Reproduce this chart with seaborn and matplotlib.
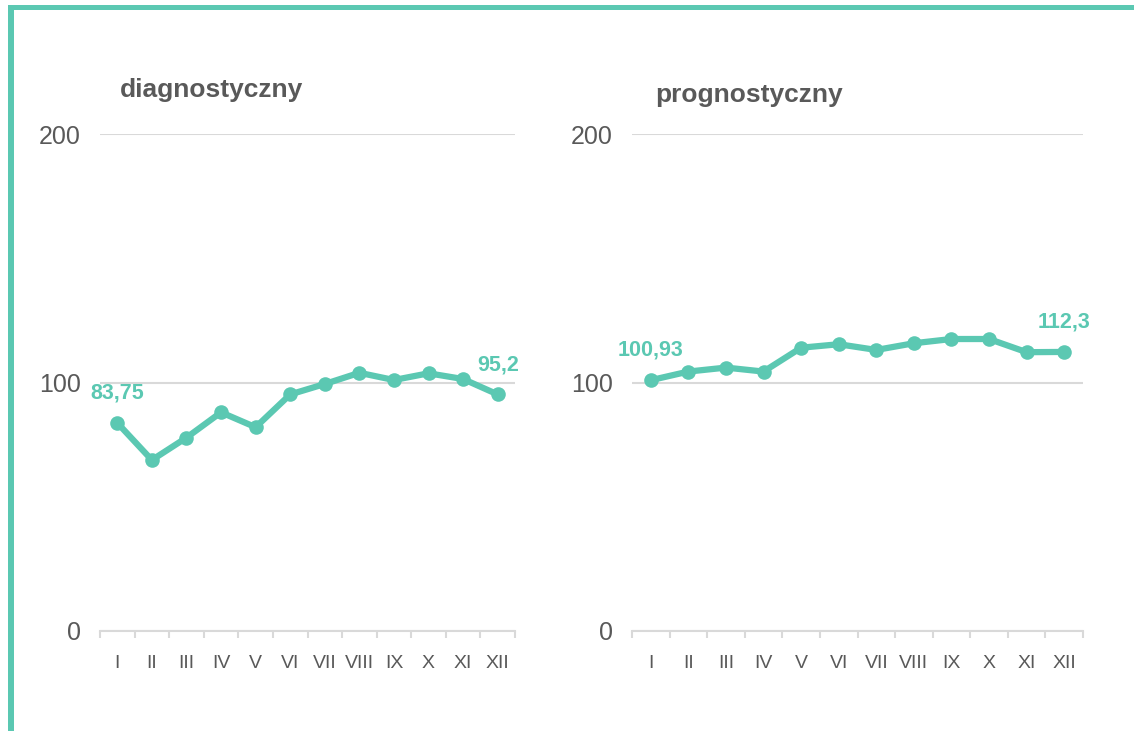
import numpy as np
import pandas as pd
import matplotlib.pyplot as plt
import seaborn as sns
from matplotlib.patches import Rectangle

# data
months = ['I', 'II', 'III', 'IV', 'V', 'VI', 'VII', 'VIII', 'IX', 'X', 'XI', 'XII']
diagnostyczny = [83.75, 68.8, 77.8, 88.0, 82.0, 95.2, 99.4, 103.9, 101.0, 103.7, 101.4, 95.2]
prognostyczny = [100.93, 104.4, 106.0, 104.4, 114.0, 115.4, 113.1, 115.8, 117.5, 117.5, 112.2, 112.3]
titles = ['diagnostyczny', 'prognostyczny']
first_labels = ['83,75', '100,93']
last_labels = ['95,2', '112,3']

teal = '#5BC8B2'
grey_txt = '#595959'
grey_line = '#D9D9D9'

sns.set_theme(style='white')
plt.rcParams['font.family'] = ['Liberation Sans', 'DejaVu Sans']

fig = plt.figure(figsize=(11.34, 7.31), dpi=100)
W, H = 1134, 731

# axes boxes in pixels: left, right, top, bottom
boxes = [(100, 515, 134, 631), (632, 1083, 134, 631)]
title_pos = [(120, 90), (655, 95)]
series = [diagnostyczny, prognostyczny]

for i in range(2):
    l, r, t, b = boxes[i]
    ax = fig.add_axes([l / W, (H - b) / H, (r - l) / W, (b - t) / H])
    df = pd.DataFrame({'miesiac': months, 'wartosc': series[i]})
    sns.lineplot(data=df, x='miesiac', y='wartosc', ax=ax, color=teal, sort=False,
                 linewidth=4.5, marker='o', markersize=10.5, markeredgewidth=0)
    ax.set_xlim(-0.5, 11.5)
    ax.set_ylim(0, 200)
    ax.set_yticks([0, 100, 200])
    ax.set_yticklabels(['0', '100', '200'])
    ax.yaxis.grid(True, color=grey_line, linewidth=1.5)
    ax.xaxis.grid(False)
    ax.set_xlabel('')
    ax.set_ylabel('')
    for s in ['top', 'left', 'right']:
        ax.spines[s].set_visible(False)
    ax.spines['bottom'].set_color(grey_line)
    ax.spines['bottom'].set_linewidth(1.5)
    ax.set_xticks(np.arange(-0.5, 12, 1), minor=True)
    ax.tick_params(axis='x', which='minor', bottom=True, length=5, width=1.5,
                   color=grey_line, direction='out')
    ax.tick_params(axis='x', which='major', bottom=True, length=0, pad=17,
                   labelsize=14, labelcolor=grey_txt)
    ax.tick_params(axis='y', length=0, pad=14, labelsize=18, labelcolor=grey_txt)
    ax.set_axisbelow(True)

    # labels for first and last point
    ax.annotate(first_labels[i], (0, series[i][0]), xytext=(0, 21.5), textcoords='offset points',
                ha='center', va='center', fontsize=15.5, fontweight='bold', color=teal)
    ax.annotate(last_labels[i], (11, series[i][-1]), xytext=(0, 21.5), textcoords='offset points',
                ha='center', va='center', fontsize=15.5, fontweight='bold', color=teal)

    tx, ty = title_pos[i]
    fig.text(tx / W, (H - ty) / H, titles[i], ha='left', va='center',
             fontsize=19, fontweight='bold', color=grey_txt)

# teal frame (only top and left edges are visible)
fig.add_artist(Rectangle((8 / W, (H - 10) / H), 1.0, 5 / H, transform=fig.transFigure,
                         facecolor=teal, edgecolor='none'))
fig.add_artist(Rectangle((8 / W, -0.01), 6 / W, (H - 5) / H + 0.01, transform=fig.transFigure,
                         facecolor=teal, edgecolor='none'))

fig.savefig('out.png', dpi=100)
